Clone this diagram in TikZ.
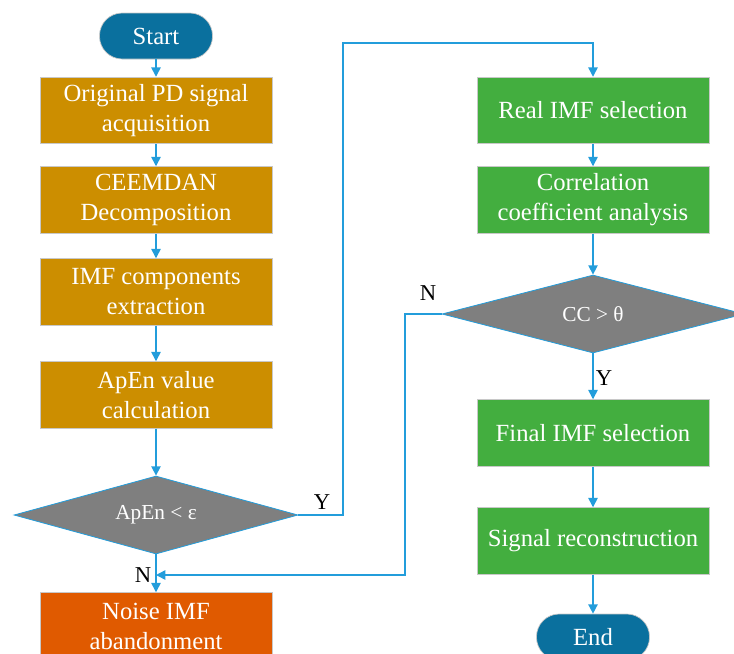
\documentclass[tikz,border=0pt]{standalone}
\usepackage{fontspec}
\setmainfont{Liberation Serif}
\usetikzlibrary{shapes.geometric,arrows.meta}

\begin{document}
\begin{tikzpicture}[x=0.75pt,y=0.75pt,yscale=-1,xscale=1,
  arr/.style={draw={rgb, 255:red, 35; green, 157; blue, 219 }, line width=1.1pt, -{Triangle[length=7pt,width=7pt]}},
  term/.style={fill={rgb, 255:red, 10; green, 112; blue, 158 }, draw={rgb, 255:red, 200; green, 200; blue, 200 }, line width=0.5pt, rounded corners=17pt, minimum width=84.75pt, minimum height=34.5pt, text=white, font=\fontsize{18.5}{22.5}\selectfont},
  proc/.style={draw={rgb, 255:red, 200; green, 200; blue, 200 }, line width=0.6pt, minimum width=174pt, minimum height=50pt, text=white, align=center, font=\fontsize{18.5}{22.5}\selectfont},
  leftbox/.style={proc, fill={rgb, 255:red, 204; green, 142; blue, 0 }},
  rightbox/.style={proc, fill={rgb, 255:red, 67; green, 174; blue, 63 }},
  dropbox/.style={proc, fill={rgb, 255:red, 224; green, 90; blue, 0 }},
  test/.style={diamond, inner sep=0pt, fill={rgb, 255:red, 127; green, 127; blue, 127 }, draw={rgb, 255:red, 35; green, 157; blue, 219 }, line width=0.6pt, minimum height=58.5pt, text=white, font=\fontsize{16}{19}\selectfont},
  yn/.style={text=black, font=\fontsize{17}{19}\selectfont}]
              \clip (0,0) rectangle (734,653);
              % left column
              \node [term] (start) at (156,36) {Start};
              \node [leftbox] (acq) at (156,110.5) {Original PD signal\\acquisition};
              \node [leftbox] (ceem) at (156,200) {CEEMDAN\\Decomposition};
              \node [leftbox] (imf) at (156,292) {IMF components\\extraction};
              \node [leftbox] (apen) at (156,395) {ApEn value\\calculation};
              \node [test, aspect=3.64, minimum width=213pt] (apentest) at (156,515) {ApEn < ε};
              \node [dropbox] (noise) at (156,626) {Noise IMF\\abandonment};
              % right column
              \node [rightbox] (real) at (593,110.5) {Real IMF selection};
              \node [rightbox] (corr) at (593,200) {Correlation\\coefficient analysis};
              \node [test, aspect=3.87, minimum width=226.5pt] (cctest) at (593,314) {CC > θ};
              \node [rightbox] (final) at (593,433) {Final IMF selection};
              \node [rightbox] (recon) at (593,541) {Signal reconstruction};
              \node [term] (end) at (593,637) {End};
              % labels
              \node [yn] (ylab1) at (322,502) {Y};
              \node [yn] (nlab1) at (143,575) {N};
              \node [yn] (nlab2) at (428,293) {N};
              \node [yn] (ylab2) at (604,378) {Y};
              \coordinate (yturn) at (343,43);
              \coordinate (nturn) at (405,314);
              \coordinate (njoin) at (156,575);
              % connectors
              \draw [arr] (start) -- (acq);
              \draw [arr] (acq) -- (ceem);
              \draw [arr] (ceem) -- (imf);
              \draw [arr] (imf) -- (apen);
              \draw [arr] (apen) -- (apentest);
              \draw [arr] (apentest) -- (noise);
              \draw [arr] (apentest.east) -| (yturn) -| (real.north);
              \draw [arr] (real) -- (corr);
              \draw [arr] (corr) -- (cctest);
              \draw [arr] (cctest) -- (final);
              \draw [arr] (final) -- (recon);
              \draw [arr] (recon) -- (end);
              \draw [arr] (cctest.west) -- (nturn) |- (njoin);
              \end{tikzpicture}
\end{document}
